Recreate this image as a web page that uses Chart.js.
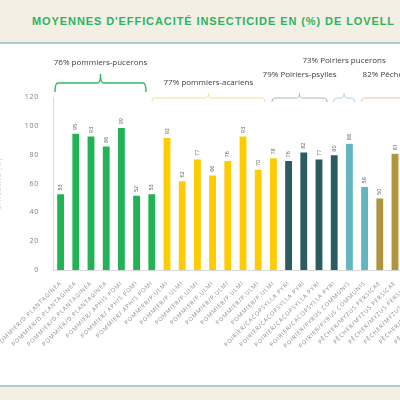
<!DOCTYPE html>
<html><head><meta charset="utf-8">
<script src="https://cdn.jsdelivr.net/npm/chart.js@4.4.0/dist/chart.umd.min.js"></script>
<style>
html,body{margin:0;padding:0;width:400px;height:400px;overflow:hidden;background:#fff;}
#top{position:absolute;left:0;top:0;width:400px;height:42px;background:#f3efe4;border-bottom:2px solid #a9cfcb;}
#title{position:absolute;left:32px;top:15px;white-space:nowrap;font:bold 11px "Liberation Sans",Arial,sans-serif;color:#2bb45f;letter-spacing:1.2px;}
#bottom{position:absolute;left:0;top:385px;width:400px;height:15px;background:#f3efe4;border-top:2px solid #a9cfcb;}
#wrap{position:absolute;left:-3px;top:44px;width:490px;height:341px;}
</style></head>
<body>
<div id="top"><div id="title">MOYENNES D'EFFICACITÉ INSECTICIDE EN (%) DE LOVELL</div></div>
<div id="wrap"><canvas id="c"></canvas></div>
<div id="bottom"></div>
<script>
// ---- data ----
const categories = [
  "POMMIER/D.PLANTAGINEA","POMMIER/D.PLANTAGINEA","POMMIER/D.PLANTAGINEA","POMMIER/D.PLANTAGINEA",
  "POMMIER/ APHIS POMI","POMMIER/ APHIS POMI","POMMIER/ APHIS POMI",
  "POMMIER/P.ULMI","POMMIER/P.ULMI","POMMIER/P.ULMI","POMMIER/P.ULMI",
  "POMMIER/P.ULMI","POMMIER/P.ULMI","POMMIER/P.ULMI","POMMIER/P.ULMI",
  "POIRIER/CACOPSYLLA PYRI","POIRIER/CACOPSYLLA PYRI","POIRIER/CACOPSYLLA PYRI","POIRIER/CACOPSYLLA PYRI",
  "POIRIER/PYRUS COMMUNIS","POIRIER/PYRUS COMMUNIS",
  "PÊCHER/MYZUS PERSICAE","PÊCHER/MYZUS PERSICAE","PÊCHER/MYZUS PERSICAE","PÊCHER/MYZUS PERSICAE",
  "PÊCHER/MYZUS PERSICAE","PÊCHER/MYZUS PERSICAE","PÊCHER/MYZUS PERSICAE"
];
const efficacy = [53,95,93,86,99,52,53, 92,62,77,66,76,93,70,78, 76,82,77,80, 88,58, 50,81, null,null,null,null,null];
const groupOfBar = [0,0,0,0,0,0,0, 1,1,1,1,1,1,1,1, 2,2,2,2, 3,3, 4,4,4,4,4,4,4];
const groupLabels = ["76% pommiers-pucerons","77% pommiers-acariens","79% Poiriers-psylles","73% Poiriers pucerons","82% Pêchers-pucerons"];
const groupFirst = [0,7,15,19,21];
const groupLast = [6,14,18,20,27];
const yTicks = [0,20,40,60,80,100,120];

// ---- styles ----
const barColors = ["#22b357","#ffcc00","#2a5c62","#63b5c1","#b0943e"];
const braceColors = ["#34b965","#f6dd8e","#a5babd","#acd7de","#dfcd9f"];
const braceStyle = [
  {s:-0.37, e:-0.38, line:-14, hook:-5, tip:-23, label:-34, w:1.4},
  {s:-1.0,  e:-0.55, line:1,   hook:5,  tip:-3.5, label:-14, w:1},
  {s:-1.1,  e:-0.46, line:1,   hook:5,  tip:-3.5, label:-22, w:1},
  {s:-1.04, e:-0.66, line:1,   hook:5,  tip:-3.5, label:-36, w:1},
  {s:-1.2,  e:0,     line:1,   hook:5,  tip:-3.5, label:-22, w:1}
];

// fit title
(function(){
  const t=document.getElementById('title');
  t.style.letterSpacing='0px';
  const w0=t.getBoundingClientRect().width;
  const n=t.textContent.length;
  t.style.letterSpacing=((363-w0)/n)+'px';
})();

const spacingPlugin = {
  id:'spacing',
  beforeDraw(chart){ chart.ctx.letterSpacing='0.75px'; },
  beforeDatasetsDraw(chart){ chart.ctx.letterSpacing='0px'; }
};

const valueLabels = {
  id:'valueLabels',
  afterDatasetsDraw(chart){
    const ctx=chart.ctx;
    const meta=chart.getDatasetMeta(0);
    ctx.save();
    ctx.letterSpacing='0px';
    ctx.fillStyle='#595959';
    ctx.font='5.5px "Open Sans", sans-serif';
    ctx.textAlign='left';
    ctx.textBaseline='middle';
    meta.data.forEach((el,i)=>{
      const v=efficacy[i];
      if(v===null||v===undefined) return;
      ctx.save();
      ctx.translate(el.x, el.y-3);
      ctx.rotate(-Math.PI/2);
      ctx.fillText(String(v),0,0);
      ctx.restore();
    });
    ctx.restore();
  }
};

const braces = {
  id:'braces',
  afterDraw(chart){
    const ctx=chart.ctx, xs=chart.scales.x, top=chart.chartArea.top;
    ctx.save();
    ctx.letterSpacing='0px';
    groupLabels.forEach((lab,g)=>{
      const st=braceStyle[g];
      const x1=xs.getPixelForValue(groupFirst[g]+st.s);
      const x2=xs.getPixelForValue(groupLast[g]+st.e);
      const xm=(x1+x2)/2;
      const yl=top+st.line, yh=top+st.hook, yt=top+st.tip;
      const r=Math.min(3,(yh-yl));
      ctx.strokeStyle=braceColors[g];
      ctx.lineWidth=st.w;
      ctx.beginPath();
      ctx.moveTo(x1,yh);
      ctx.quadraticCurveTo(x1,yl,x1+r,yl);
      ctx.lineTo(xm-r,yl);
      ctx.quadraticCurveTo(xm,yl,xm,yt);
      ctx.quadraticCurveTo(xm,yl,xm+r,yl);
      ctx.lineTo(x2-r,yl);
      ctx.quadraticCurveTo(x2,yl,x2,yh);
      ctx.stroke();
      ctx.fillStyle='#404040';
      ctx.font='8px "Open Sans", sans-serif';
      ctx.textAlign='center';
      ctx.textBaseline='middle';
      let lx=xm;
      if(g===4){ ctx.textAlign='left'; lx=x1+1; }
      ctx.fillText(lab,lx,top+st.label);
    });
    ctx.restore();
  }
};

new Chart(document.getElementById('c'),{
  type:'bar',
  data:{
    labels:categories,
    datasets:[{
      data:efficacy,
      backgroundColor:groupOfBar.map(g=>barColors[g]),
      borderColor:'rgba(255,255,255,0.35)',
      borderWidth:0.6,
      barPercentage:0.53,
      categoryPercentage:1.0
    }]
  },
  options:{
    responsive:true,
    maintainAspectRatio:false,
    animation:false,
    layout:{padding:{top:53,right:8.4,left:0,bottom:0}},
    plugins:{legend:{display:false},tooltip:{enabled:false}},
    scales:{
      x:{
        grid:{display:false},
        border:{display:true,color:'#d9d9d9'},
        ticks:{autoSkip:false,minRotation:45,maxRotation:45,color:'#8c8c8c',
          font:{family:'"Open Sans", sans-serif',size:5.8},padding:2},
        afterFit(s){ s.height=115; s.paddingLeft=0; s.paddingRight=0; }
      },
      y:{
        min:0,max:120,
        afterBuildTicks(s){ s.ticks=yTicks.map(v=>({value:v})); },
        grid:{display:false},
        border:{display:true,color:'#d9d9d9'},
        ticks:{color:'#7f7f7f',font:{family:'"Open Sans", sans-serif',size:7},padding:6},
        title:{display:true,text:'Efficacité (%)',color:'#cccccc',
          font:{family:'"Open Sans", sans-serif',size:7},padding:{top:-2.5,bottom:0}},
        afterFit(s){ s.width=56; }
      }
    }
  },
  plugins:[spacingPlugin,valueLabels,braces]
});
</script>
</body></html>
